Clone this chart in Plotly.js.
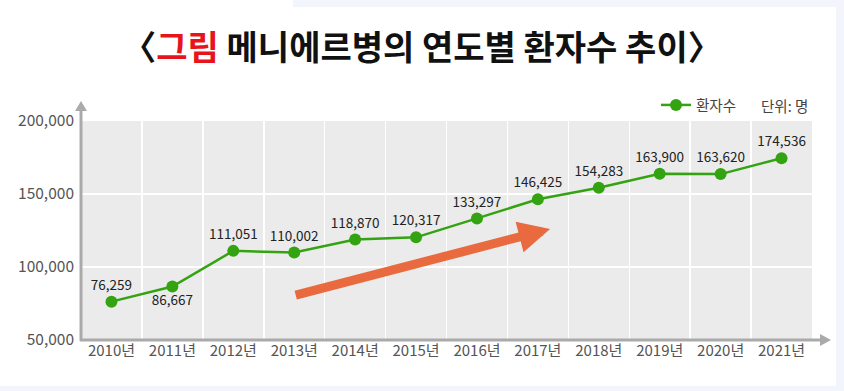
<!DOCTYPE html>
<html>
<head>
<meta charset="utf-8">
<script src="https://cdn.plot.ly/plotly-3.0.1.min.js"></script>
<style>html,body{margin:0;padding:0;background:#fff;}#chart{width:844px;height:391px;}</style>
</head>
<body>
<div id="chart"></div>
<script>
const years = ['2010년','2011년','2012년','2013년','2014년','2015년','2016년','2017년','2018년','2019년','2020년','2021년'];
const patients = [76259, 86667, 111051, 110002, 118870, 120317, 133297, 146425, 154283, 163900, 163620, 174536];
const labelPos = ['top center','bottom center','top center','top center','top center','top center','top center','top center','top center','top center','top center','top center'];
const yTicks = [50000, 100000, 150000, 200000];
const yTickText = ['50,000','100,000','150,000','200,000'];
const seriesName = '환자수';
const unitText = '단위: 명';
const titleText = '〈<span style="color:#e8141c">그림</span> 메니에르병의 연도별 환자수 추이〉';

const fmt = v => v.toLocaleString('en-US');
const green = '#34a312';
const axisGray = '#aaaaaa';
const font = '"Noto Sans CJK KR", "Noto Sans", sans-serif';

// pixel helpers for decorations (plot area: x 81..812, y 121..340)
const L = 81, R = 812, T = 121, B = 340;
const px = p => (p - L) / (R - L);
const py = p => (B - p) / (B - T);

const trace = {
  x: years,
  y: patients,
  type: 'scatter',
  mode: 'lines+markers+text',
  name: seriesName,
  line: {color: green, width: 2.5},
  marker: {color: green, size: 12},
  text: patients.map(fmt),
  textposition: labelPos,
  textfont: {family: font, size: 13.5, color: '#222'},
  cliponaxis: false
};

const bgBlue = '#f3f5fd';
const layout = {
  width: 844, height: 391,
  margin: {l: L, r: 844 - R, t: T, b: 391 - B},
  paper_bgcolor: '#ffffff',
  plot_bgcolor: '#ebebeb',
  title: {
    text: titleText,
    font: {family: font, size: 34, color: '#111', weight: 'bold'},
    x: 0.5, xanchor: 'center', xref: 'container',
    y: 1 - 48/391, yanchor: 'middle', yref: 'container'
  },
  showlegend: true,
  legend: {
    orientation: 'h', x: px(656), xanchor: 'left', y: py(105), yanchor: 'middle',
    font: {family: font, size: 14.5, color: '#444'}, bgcolor: 'rgba(0,0,0,0)'
  },
  xaxis: {
    type: 'category',
    range: [-0.5, years.length - 0.5],
    tickson: 'boundaries',
    showgrid: true, gridcolor: '#ffffff', gridwidth: 1.5,
    showline: false, zeroline: false, ticks: '',
    tickfont: {family: font, size: 15, color: '#555'},
    fixedrange: true
  },
  yaxis: {
    range: [50000, 200000],
    tickvals: yTicks, ticktext: yTickText,
    showgrid: true, gridcolor: '#ffffff', gridwidth: 1.5,
    showline: false, zeroline: false, ticks: '',
    tickfont: {family: font, size: 15.5, color: '#555'},
    ticklabelstandoff: 6,
    fixedrange: true
  },
  annotations: [
    {xref: 'paper', yref: 'paper', x: px(759), y: py(105), xanchor: 'left', yanchor: 'middle',
     text: unitText, showarrow: false, font: {family: font, size: 14.5, color: '#444'}},
    {xref: 'x', yref: 'y', axref: 'x', ayref: 'y',
     x: 7.2, y: 126000, ax: 3.0, ay: 80500,
     showarrow: true, arrowhead: 2, arrowsize: 0.7, arrowwidth: 9, arrowcolor: '#e96a3e',
     text: '', standoff: 0, startstandoff: 0}
  ],
  shapes: [
    {type: 'rect', xref: 'paper', yref: 'paper', x0: px(293), x1: px(844), y0: py(7), y1: py(0), fillcolor: bgBlue, line: {width: 0}, layer: 'below'},
    {type: 'rect', xref: 'paper', yref: 'paper', x0: px(836), x1: px(844), y0: py(391), y1: py(0), fillcolor: bgBlue, line: {width: 0}, layer: 'below'},
    {type: 'rect', xref: 'paper', yref: 'paper', x0: px(0), x1: px(844), y0: py(391), y1: py(386), fillcolor: bgBlue, line: {width: 0}, layer: 'below'},
    {type: 'line', xref: 'paper', yref: 'paper', x0: 0, x1: 0, y0: py(341), y1: py(110), line: {color: axisGray, width: 3}},
    {type: 'path', xref: 'paper', yref: 'paper',
     path: `M ${px(75)} ${py(111)} L ${px(81)} ${py(101)} L ${px(87)} ${py(111)} Z`, fillcolor: axisGray, line: {width: 0}},
    {type: 'line', xref: 'paper', yref: 'paper', x0: px(80), x1: px(822), y0: 0, y1: 0, line: {color: axisGray, width: 3}},
    {type: 'path', xref: 'paper', yref: 'paper',
     path: `M ${px(820)} ${py(334)} L ${px(831)} ${py(340)} L ${px(820)} ${py(346)} Z`, fillcolor: axisGray, line: {width: 0}}
  ]
};

Plotly.newPlot('chart', [trace], layout, {displayModeBar: false, staticPlot: true});
</script>
</body>
</html>
